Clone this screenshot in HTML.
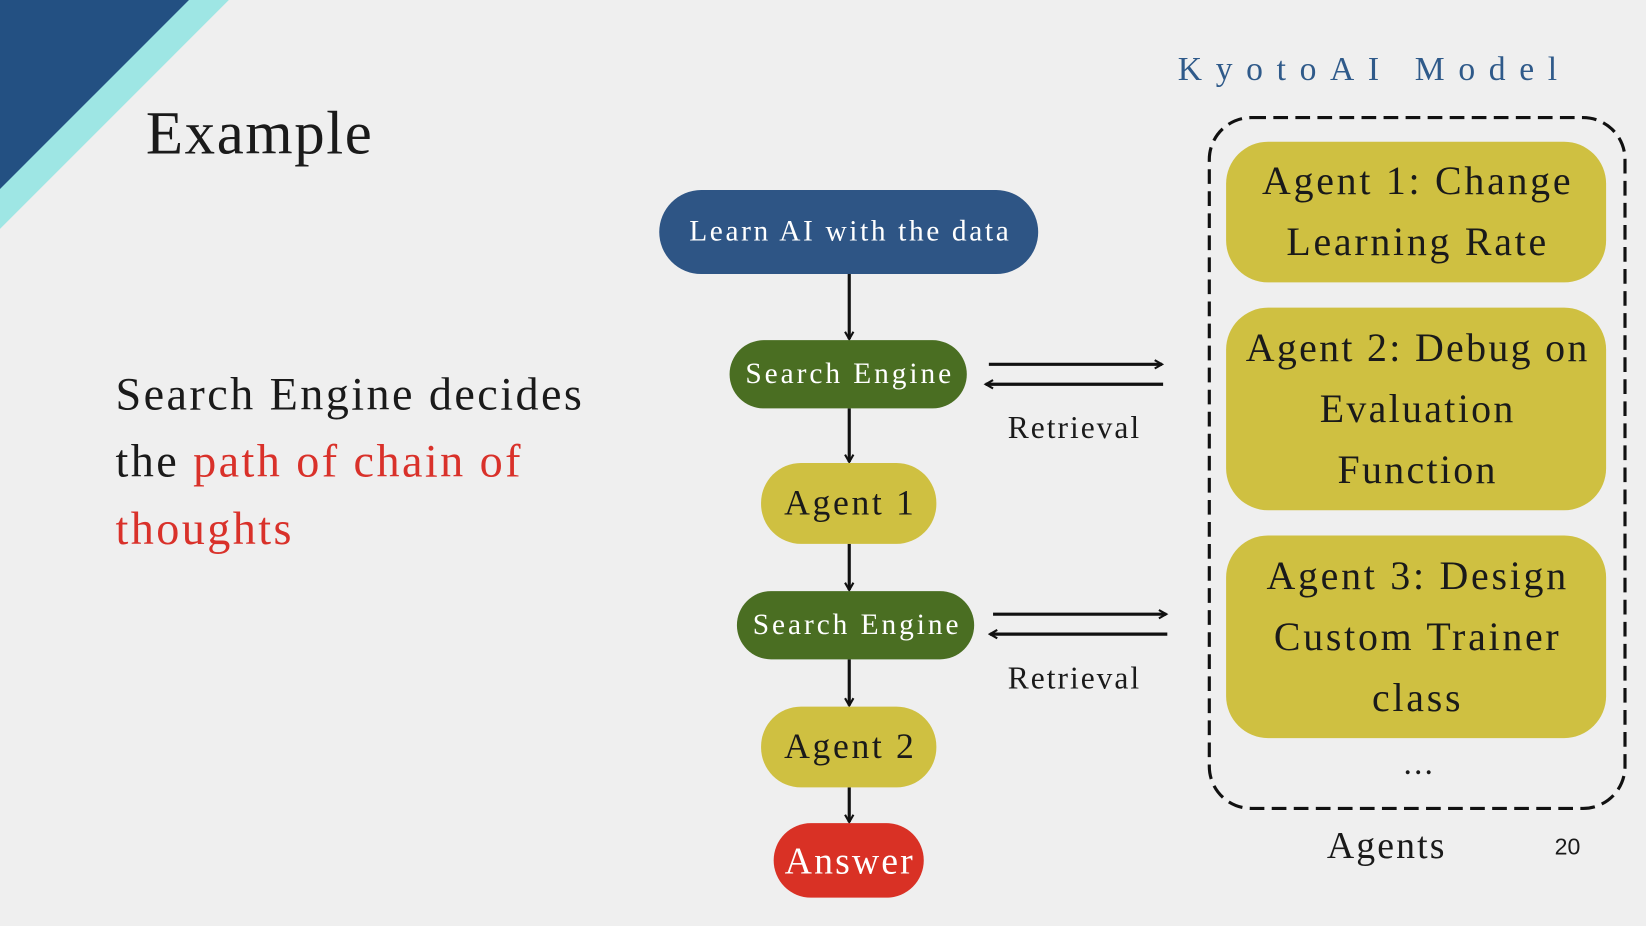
<!DOCTYPE html>
<html><head><meta charset="utf-8"><style>
html,body{margin:0;padding:0;background:#efefef;overflow:hidden;width:1646px;height:926px}
#c{position:absolute;left:0;top:0;width:1568px;height:882px;transform:scale(1.04974,1.04989);transform-origin:0 0;font-family:"Liberation Serif",serif;}
.t{position:absolute;white-space:nowrap}
.n{position:absolute;display:flex;align-items:center;justify-content:center;text-align:center;box-sizing:border-box}
</style></head><body><div id="c">
<svg width="1568" height="882" style="position:absolute;left:0;top:0">
<polygon points="0,0 218,0 0,218" fill="#9ee6e4"/>
<polygon points="0,0 180,0 0,180" fill="#235082"/>
<rect x="1152" y="112" width="396" height="658" rx="40" fill="none" stroke="#111" stroke-width="3" stroke-dasharray="14,7"/>
<defs><marker id="a" markerWidth="10" markerHeight="10" refX="8" refY="5" orient="auto" markerUnits="userSpaceOnUse"><path d="M1,1 L8,5 L1,9" fill="none" stroke="#111" stroke-width="2"/></marker></defs>
<g stroke="#111" stroke-width="3" marker-end="url(#a)">
<line x1="809" y1="261" x2="809" y2="323"/>
<line x1="809" y1="389" x2="809" y2="440"/>
<line x1="809" y1="518" x2="809" y2="562"/>
<line x1="809" y1="628" x2="809" y2="672"/>
<line x1="809" y1="750" x2="809" y2="783"/>
<line x1="942" y1="347" x2="1107" y2="347"/>
<line x1="1108" y1="366" x2="939" y2="366"/>
<line x1="946" y1="585" x2="1111" y2="585"/>
<line x1="1112" y1="604" x2="943" y2="604"/>
</g>
</svg>
<div class="t" style="left:139px;top:93px;font-size:58px;letter-spacing:1.5px;color:#1a1a1a">Example</div>
<div class="t" style="left:110px;top:344px;font-size:44px;line-height:64px;letter-spacing:2.3px;color:#1a1a1a">Search Engine decides<br>the <span style="color:#d9312a">path of chain of</span><br><span style="color:#d9312a">thoughts</span></div>
<div class="t" style="left:1122px;top:47px;font-size:32px;letter-spacing:13px;color:#2f5a8a">KyotoAI Model</div>
<div class="n" style="left:1168px;top:135px;width:362px;height:134px;border-radius:40px;background:#cfc041;font-size:38px;line-height:58px;letter-spacing:2.6px;padding-left:3px;color:#1a1a1a">Agent 1: Change<br>Learning Rate</div>
<div class="n" style="left:1168px;top:293px;width:362px;height:193px;border-radius:40px;background:#cfc041;font-size:38px;line-height:58px;letter-spacing:2.2px;padding-left:3px;color:#1a1a1a">Agent 2: Debug on<br>Evaluation<br>Function</div>
<div class="n" style="left:1168px;top:510px;width:362px;height:193px;border-radius:40px;background:#cfc041;font-size:38px;line-height:58px;letter-spacing:2.6px;padding-left:3px;color:#1a1a1a">Agent 3: Design<br>Custom Trainer<br>class</div>
<div class="t" style="left:1337px;top:708px;font-size:32px;letter-spacing:2px;color:#1a1a1a">...</div>
<div class="t" style="left:1264px;top:784px;font-size:36px;letter-spacing:2px;color:#1a1a1a">Agents</div>
<div class="t" style="left:1481px;top:794px;font-size:22px;font-family:'Liberation Sans',sans-serif;color:#1a1a1a">20</div>
<div class="n" style="left:628px;top:181px;width:361px;height:80px;border-radius:40px;background:#2e5585;color:#fff;font-size:28px;letter-spacing:2.5px;padding-left:3px">Learn AI with the data</div>
<div class="n" style="left:695px;top:324px;width:226px;height:65px;border-radius:33px;background:#4a6e22;color:#fff;font-size:28px;letter-spacing:2.8px;padding-left:3px">Search Engine</div>
<div class="n" style="left:725px;top:441px;width:167px;height:77px;border-radius:38px;background:#cfc041;color:#1a1a1a;font-size:34px;letter-spacing:2.5px;padding-left:3px">Agent 1</div>
<div class="n" style="left:702px;top:563px;width:226px;height:65px;border-radius:33px;background:#4a6e22;color:#fff;font-size:28px;letter-spacing:2.8px;padding-left:3px">Search Engine</div>
<div class="n" style="left:725px;top:673px;width:167px;height:77px;border-radius:38px;background:#cfc041;color:#1a1a1a;font-size:34px;letter-spacing:2.5px;padding-left:3px">Agent 2</div>
<div class="n" style="left:737px;top:784px;width:143px;height:71px;border-radius:36px;background:#d93125;color:#fff;font-size:36px;letter-spacing:2px;padding-left:2px">Answer</div>
<div class="t" style="left:960px;top:391px;font-size:30px;letter-spacing:1.9px;color:#1a1a1a">Retrieval</div>
<div class="t" style="left:960px;top:630px;font-size:30px;letter-spacing:1.9px;color:#1a1a1a">Retrieval</div>
</div></body></html>
